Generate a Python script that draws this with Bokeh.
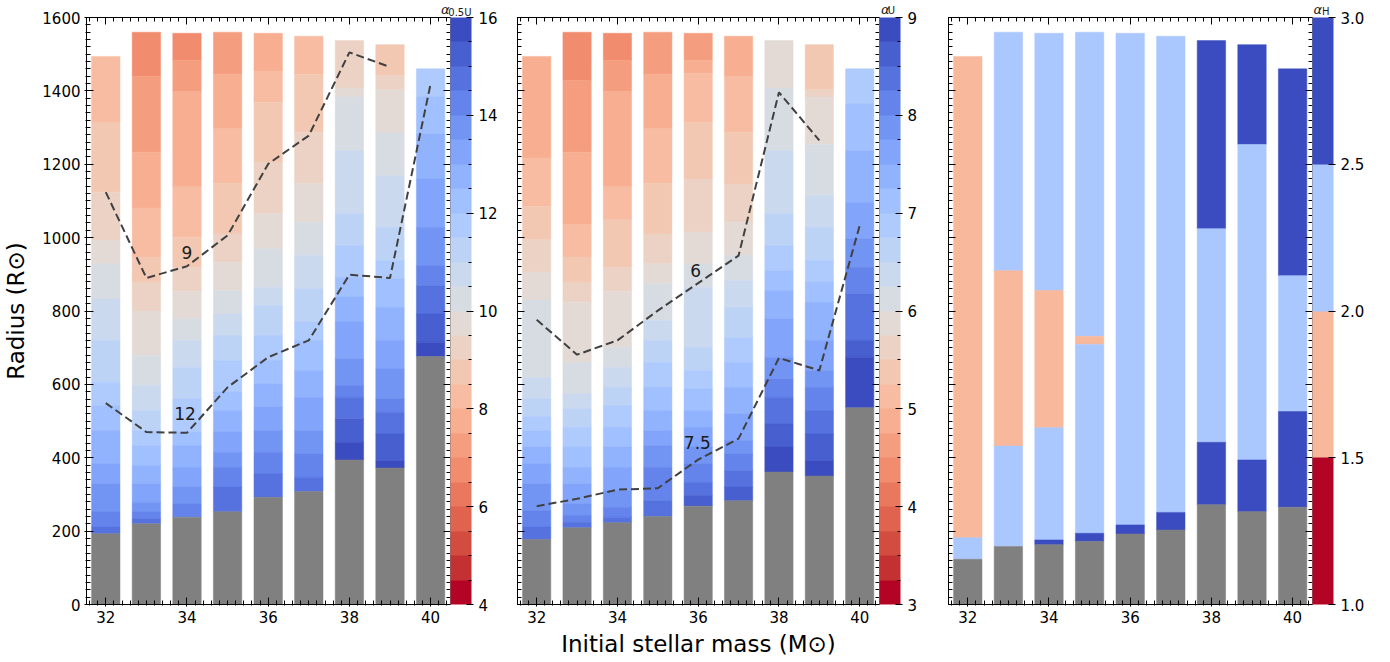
from bokeh.plotting import figure
from bokeh.models import (LinearAxis, ColorBar, LinearColorMapper, FixedTicker,
                          SingleIntervalTicker, Label, Range1d, PrintfTickFormatter,
                          ColumnDataSource)
from bokeh.layouts import row
from bokeh.embed import file_html
from bokeh.resources import INLINE

FONT = "DejaVu Sans"

masses = [32, 33, 34, 35, 36, 37, 38, 39, 40]

# ---------- panel 1 : alpha_0.5U ----------
p1_core = [193, 220, 238, 253, 292, 308, 394, 372, 676]
p1_tops = [
    [1494, 1313, 1124, 992, 929, 833, 720, 606, 542, 474, 383, 329, 252, 211],
    [1560, 1439, 1233, 1081, 947, 879, 800, 679, 597, 529, 474, 433, 379, 329, 279, 252, 234],
    [1557, 1483, 1398, 1139, 1001, 919, 854, 779, 720, 647, 560, 470, 433, 374, 320, 274],
    [1560, 1445, 1297, 1148, 1010, 933, 856, 792, 733, 665, 579, 529, 470, 415, 374, 320],
    [1557, 1454, 1369, 1206, 1065, 970, 865, 815, 733, 665, 601, 538, 474, 415, 356],
    [1549, 1445, 1287, 1148, 1042, 951, 860, 770, 720, 638, 565, 474, 411, 347],
    [1537, 1408, 1383, 1237, 1065, 978, 892, 838, 770, 670, 597, 565, 506, 442],
    [1526, 1442, 1403, 1285, 1169, 1028, 938, 888, 810, 720, 642, 561, 524, 465, 392],
    [1460, 1383, 1283, 1160, 1028, 924, 869, 792, 715],
]
p1_alpha = [
    [8.25, 8.75, 9.25, 9.75, 10.25, 10.75, 11.25, 11.75, 12.25, 12.75, 13.25, 13.75, 14.25, 14.75],
    [6.75, 7.25, 7.75, 8.25, 8.75, 9.25, 9.75, 10.25, 10.75, 11.25, 11.75, 12.25, 12.75, 13.25, 13.75, 14.25, 14.75],
    [6.75, 7.25, 7.75, 8.25, 8.75, 9.25, 9.75, 10.25, 10.75, 11.25, 11.75, 12.25, 12.75, 13.25, 13.75, 14.25],
    [7.25, 7.75, 8.25, 8.75, 9.25, 9.75, 10.25, 10.75, 11.25, 11.75, 12.25, 12.75, 13.25, 13.75, 14.25, 14.75],
    [7.75, 8.25, 8.75, 9.25, 9.75, 10.25, 10.75, 11.25, 11.75, 12.25, 12.75, 13.25, 13.75, 14.25, 14.75],
    [8.25, 8.75, 9.25, 9.75, 10.25, 10.75, 11.25, 11.75, 12.25, 12.75, 13.25, 13.75, 14.25, 14.75],
    [9.25, 9.75, 10.25, 10.75, 11.25, 11.75, 12.25, 12.75, 13.25, 13.75, 14.25, 14.75, 15.25, 15.75],
    [8.75, 9.25, 9.75, 10.25, 10.75, 11.25, 11.75, 12.25, 12.75, 13.25, 13.75, 14.25, 14.75, 15.25, 15.75],
    [11.75, 12.25, 12.75, 13.25, 13.75, 14.25, 14.75, 15.25, 15.75],
]
p1_c9 = [1124, 890, 922, 1006, 1201, 1278, 1505, 1465]
p1_c12 = [549, 470, 468, 592, 674, 720, 899, 890, 1419]

# ---------- panel 2 : alpha_U ----------
p2_core = [177, 209, 223, 240, 268, 283, 361, 350, 536]
p2_tops = [
    [1494, 1217, 1085, 994, 906, 830, 618, 561, 511, 474, 429, 383, 329, 256, 211],
    [1560, 1428, 1233, 1036, 947, 879, 824, 660, 574, 533, 483, 429, 374, 329, 274, 243, 224],
    [1557, 1483, 1398, 1139, 1049, 919, 854, 701, 647, 592, 542, 483, 429, 374, 311, 265, 238],
    [1560, 1445, 1297, 1148, 1010, 929, 874, 774, 720, 660, 592, 529, 474, 433, 374, 283],
    [1557, 1483, 1448, 1314, 1160, 1015, 929, 865, 701, 638, 588, 529, 483, 429, 383, 333, 297],
    [1549, 1439, 1287, 1146, 1042, 951, 883, 810, 727, 660, 592, 520, 447, 411, 365, 320],
    [1537, 1408, 1237, 1065, 978, 910, 856, 779, 674, 615, 565, 492, 429],
    [1526, 1403, 1383, 1254, 1115, 1028, 938, 879, 824, 720, 638, 592, 529, 465, 392],
    [1460, 1364, 1237, 1096, 997, 919, 847, 720, 674],
]
p2_alpha = [
    [4.875, 5.125, 5.375, 5.625, 5.875, 6.125, 6.375, 6.625, 6.875, 7.125, 7.375, 7.625, 7.875, 8.125, 8.375],
    [4.375, 4.625, 4.875, 5.125, 5.375, 5.625, 5.875, 6.125, 6.375, 6.625, 6.875, 7.125, 7.375, 7.625, 7.875, 8.125, 8.375],
    [4.375, 4.625, 4.875, 5.125, 5.375, 5.625, 5.875, 6.125, 6.375, 6.625, 6.875, 7.125, 7.375, 7.625, 7.875, 8.125, 8.375],
    [4.625, 4.875, 5.125, 5.375, 5.625, 5.875, 6.125, 6.375, 6.625, 6.875, 7.125, 7.375, 7.625, 7.875, 8.125, 8.375],
    [4.625, 4.875, 5.125, 5.375, 5.625, 5.875, 6.125, 6.375, 6.625, 6.875, 7.125, 7.375, 7.625, 7.875, 8.125, 8.375, 8.625],
    [4.875, 5.125, 5.375, 5.625, 5.875, 6.125, 6.375, 6.625, 6.875, 7.125, 7.375, 7.625, 7.875, 8.125, 8.375, 8.625],
    [5.875, 6.125, 6.375, 6.625, 6.875, 7.125, 7.375, 7.625, 7.875, 8.125, 8.375, 8.625, 8.875],
    [5.375, 5.625, 5.875, 6.125, 6.375, 6.625, 6.875, 7.125, 7.375, 7.625, 7.875, 8.125, 8.375, 8.625, 8.875],
    [6.875, 7.125, 7.375, 7.625, 7.875, 8.125, 8.375, 8.625, 8.875],
]
p2_c6 = [776, 681, 720, 801, 876, 951, 1396, 1265]
p2_c75 = [268, 288, 313, 317, 395, 452, 672, 638, 1033]

# ---------- panel 3 : alpha_H ----------
p3_core = [123, 158, 163, 172, 192, 203, 272, 253, 265]
p3_tops = [
    [1494, 182],
    [1560, 910, 432],
    [1557, 856, 482, 176],
    [1560, 731, 709, 194],
    [1557, 217],
    [1549, 251],
    [1537, 1024, 442],
    [1526, 1254, 394],
    [1460, 896, 526],
]
p3_alpha = [
    [1.75, 2.25],
    [2.25, 1.75, 2.25],
    [2.25, 1.75, 2.25, 2.75],
    [2.25, 1.75, 2.25, 2.75],
    [2.25, 2.75],
    [2.25, 2.75],
    [2.75, 2.25, 2.75],
    [2.75, 2.25, 2.75],
    [2.75, 2.25, 2.75],
]

cb1_ticks = [4, 6, 8, 10, 12, 14, 16]
cb2_ticks = [3, 4, 5, 6, 7, 8, 9]
cb3_ticks = [1.0, 1.5, 2.0, 2.5, 3.0]

# ---------- coolwarm colour map (style) ----------
CW = [(59, 76, 192), (68, 90, 204), (77, 104, 215), (87, 117, 225), (98, 130, 234),
      (108, 142, 241), (119, 154, 247), (130, 165, 251), (141, 176, 254), (152, 185, 255),
      (163, 194, 255), (174, 201, 253), (184, 208, 249), (194, 213, 244), (204, 217, 238),
      (213, 219, 230), (221, 221, 221), (229, 216, 209), (236, 211, 197), (241, 204, 184),
      (245, 196, 172), (247, 187, 160), (247, 177, 148), (247, 166, 135), (244, 154, 123),
      (241, 141, 111), (236, 127, 99), (229, 112, 88), (222, 96, 77), (213, 80, 66),
      (203, 62, 56), (192, 40, 47), (180, 4, 38)]


def coolwarm(t):
    f = t * 32
    i = min(int(f), 31)
    w = f - i
    c = [round(CW[i][k] * (1 - w) + CW[i + 1][k] * w) for k in range(3)]
    return "#%02x%02x%02x" % tuple(c)


pal24 = [coolwarm(1 - i / 23) for i in range(24)]
pal4 = [coolwarm(1 - i / 3) for i in range(4)]

X_RANGE = (31.525, 40.49)
H = 660


def style_axis(ax, show_labels):
    ax.axis_line_color = "black"
    ax.axis_line_width = 1
    ax.major_tick_line_color = "black"
    ax.minor_tick_line_color = "black"
    ax.major_tick_in = 7
    ax.major_tick_out = 2
    ax.minor_tick_in = 4
    ax.minor_tick_out = 1
    if show_labels:
        ax.major_label_text_font = FONT
        ax.major_label_text_font_size = "15px"
        ax.major_label_text_color = "black"
        ax.major_label_standoff = 4
    else:
        ax.major_label_text_font_size = "1px"
        ax.major_label_text_color = None
        ax.major_label_standoff = 0
        ax.major_tick_out = 0
        ax.minor_tick_out = 0


def make_panel(tops, alphas, core, mapper, cb_ticks, cb_minor, cb_fmt, width, left, right,
               show_y, xlabel, sub, title_pos, contours, clabels, title_side):
    p = figure(width=width, height=H, x_range=Range1d(*X_RANGE), y_range=Range1d(0, 1600),
               output_backend="svg", toolbar_location=None,
               min_border_left=left, min_border_right=right,
               min_border_top=17, min_border_bottom=H - 17 - 587)
    p.xgrid.visible = False
    p.ygrid.visible = False
    p.outline_line_color = "black"
    p.outline_line_width = 1
    p.background_fill_color = "white"
    p.border_fill_color = "white"

    xs, bots, tps, al = [], [], [], []
    for k, m in enumerate(masses):
        t = tops[k]
        b = t[1:] + [core[k]]
        for j in range(len(t)):
            xs.append(m)
            tps.append(t[j])
            bots.append(b[j])
            al.append(alphas[k][j])
    src = ColumnDataSource(dict(x=xs, bottom=bots, top=tps, a=al))
    p.vbar(x="x", width=0.7, bottom="bottom", top="top", source=src,
           fill_color={"field": "a", "transform": mapper},
           line_color={"field": "a", "transform": mapper}, line_width=0.5)
    p.vbar(x=masses, width=0.7, bottom=0, top=core, fill_color="#808080",
           line_color="#808080", line_width=0.5)

    for c in contours:
        p.line(masses[:len(c)], c, line_color="#404040", line_width=2, line_dash="8 4")
    for (lx, ly, lt) in clabels:
        p.add_layout(Label(x=lx, y=ly, text=lt, text_font=FONT, text_font_size="17px",
                           text_align="center", text_baseline="middle", text_color="#1a1a1a"))

    # axes
    p.xaxis.ticker = SingleIntervalTicker(interval=2, num_minor_ticks=10)
    p.yaxis.ticker = SingleIntervalTicker(interval=200, num_minor_ticks=10)
    style_axis(p.xaxis[0], True)
    style_axis(p.yaxis[0], show_y)
    if show_y:
        p.yaxis.axis_label = "Radius (R\u2299)"
        p.yaxis.axis_label_text_font = FONT
        p.yaxis.axis_label_text_font_size = "23px"
        p.yaxis.axis_label_text_font_style = "normal"
        p.yaxis.axis_label_text_color = "black"
        p.yaxis.axis_label_standoff = 10
    if xlabel:
        p.xaxis.axis_label = xlabel
        p.xaxis.axis_label_text_font = FONT
        p.xaxis.axis_label_text_font_size = "23px"
        p.xaxis.axis_label_text_font_style = "normal"
        p.xaxis.axis_label_text_color = "black"
        p.xaxis.axis_label_standoff = 5

    top_ax = LinearAxis(ticker=SingleIntervalTicker(interval=2, num_minor_ticks=10))
    style_axis(top_ax, False)
    p.add_layout(top_ax, "above")
    right_ax = LinearAxis(ticker=SingleIntervalTicker(interval=200, num_minor_ticks=10))
    style_axis(right_ax, False)
    p.add_layout(right_ax, "right")

    cb = ColorBar(color_mapper=mapper, width=21, padding=0, margin=0,
                  ticker=FixedTicker(ticks=cb_ticks, minor_ticks=cb_minor),
                  formatter=cb_fmt, bar_line_color=None,
                  major_tick_line_color="black", minor_tick_line_color="black",
                  major_tick_in=5, major_tick_out=2, minor_tick_in=3, minor_tick_out=0,
                  label_standoff=5, major_label_text_font=FONT,
                  major_label_text_font_size="15px", major_label_text_color="black")
    p.add_layout(cb, "right")

    # colour-bar title (alpha with subscript), placed in a side panel so it is not clipped
    ax_, ay_, sx_, sy_ = title_pos
    p.add_layout(Label(x=ax_, y=ay_, text="\u03b1", text_font=FONT, text_font_style="italic",
                       text_font_size="13px", text_baseline="alphabetic", text_align="left",
                       text_color="#1a1a1a"), title_side)
    p.add_layout(Label(x=sx_, y=sy_, text=sub, text_font=FONT, text_font_size="10px",
                       text_baseline="alphabetic", text_align="left", text_color="#1a1a1a"),
                 title_side)
    return p


m1 = LinearColorMapper(palette=pal24, low=4, high=16)
m2 = LinearColorMapper(palette=pal24, low=3, high=9)
m3 = LinearColorMapper(palette=pal4, low=1, high=3)

p1 = make_panel(p1_tops, p1_alpha, p1_core, m1, cb1_ticks, [4 + 0.5 * i for i in range(25)],
                PrintfTickFormatter(format="%d"), 505, 86, 55, True, None, "0.5U",
                (40.255, 1623, 40.435, 1614),
                [p1_c9, p1_c12], [(34.0, 960, "9"), (33.95, 521, "12")], "below")
p2 = make_panel(p2_tops, p2_alpha, p2_core, m2, cb2_ticks, [3 + 0.25 * i for i in range(25)],
                PrintfTickFormatter(format="%d"), 431, 12, 54, False,
                "Initial stellar mass (M\u2299)", "U", (40.526, 1623, 40.693, 1620),
                [p2_c6, p2_c75], [(35.94, 910, "6"), (35.98, 442, "7.5")], "right")
p3 = make_panel(p3_tops, p3_alpha, p3_core, m3, cb3_ticks, [],
                PrintfTickFormatter(format="%.1f"), 452, 12, 76, False, None, "H",
                (40.516, 1621, 40.723, 1617), [], [], "right")

layout = row(p1, p2, p3)
open("out.html", "w").write(file_html(layout, INLINE))
